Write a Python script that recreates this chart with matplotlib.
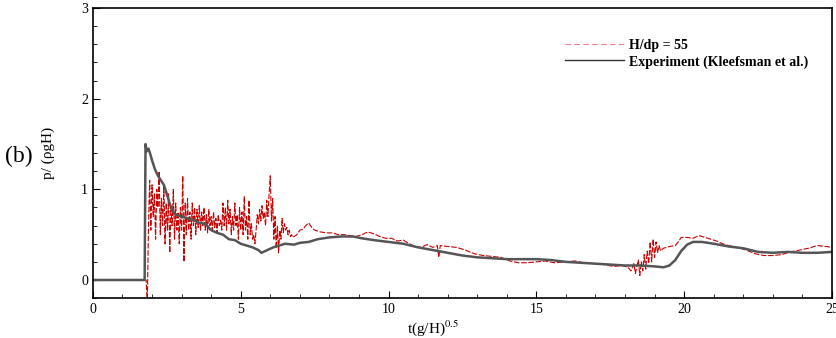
import numpy as np
import matplotlib
matplotlib.use("Agg")
import matplotlib.pyplot as plt
from matplotlib.ticker import MultipleLocator

# simulation, H/dp = 55
sim_t = [0.00, 1.76, 1.80, 1.84, 1.88, 1.92, 1.96, 2.00, 2.04, 2.08, 2.12, 2.16, 2.20, 2.24,
         2.28, 2.32, 2.36, 2.40, 2.44, 2.48, 2.52, 2.56, 2.60, 2.64, 2.68, 2.72, 2.76,
         2.80, 2.84, 2.88, 2.92, 2.96, 3.00, 3.04, 3.08, 3.12, 3.16, 3.20, 3.24, 3.28,
         3.32, 3.36, 3.40, 3.44, 3.48, 3.52, 3.56, 3.60, 3.64, 3.68, 3.72, 3.76, 3.80,
         3.84, 3.88, 3.92, 3.96, 4.00, 4.04, 4.08, 4.12, 4.16, 4.20, 4.24, 4.28, 4.32,
         4.36, 4.40, 4.44, 4.48, 4.52, 4.56, 4.60, 4.64, 4.68, 4.72, 4.76, 4.80, 4.84,
         4.88, 4.92, 4.96, 5.00, 5.04, 5.08, 5.12, 5.16, 5.20, 5.24, 5.28, 5.32, 5.36,
         5.40, 5.44, 5.48, 5.52, 5.56, 5.60, 5.64, 5.68, 5.72, 5.76, 5.80, 5.84, 5.88,
         5.92, 5.96, 6.00, 6.04, 6.08, 6.12, 6.16, 6.20, 6.24, 6.28, 6.32, 6.36, 6.40,
         6.44, 6.48, 6.52, 6.56, 6.60, 6.64, 6.68, 6.72, 6.76,
         6.9, 7.0, 7.1, 7.2, 7.3, 7.4, 7.5, 7.7, 7.9, 8.1, 8.3, 8.5, 8.7, 8.9, 9.1, 9.3,
         9.5, 9.7, 9.9, 10.1, 10.3, 10.5, 10.7, 10.9, 11.1, 11.3, 11.5, 11.65, 11.7, 11.75,
         12.0, 12.3, 12.6, 12.9, 13.2, 13.5, 13.8, 14.1, 14.4, 14.7, 15.0, 15.3, 15.6,
         16.0, 16.3, 16.6, 17.0, 17.3, 17.6, 17.9, 18.1, 18.2, 18.3, 18.35, 18.4, 18.45,
         18.5, 18.55, 18.6, 18.65, 18.7, 18.75, 18.8, 18.85, 18.9, 18.95, 19.0, 19.05,
         19.1, 19.15, 19.2, 19.3, 19.5, 19.7, 19.8, 19.9, 20.1, 20.3, 20.5, 20.7, 20.9,
         21.1, 21.3, 21.5, 21.8, 22.1, 22.4, 22.7, 23.0, 23.3, 23.6, 23.9, 24.2, 24.5,
         24.8, 25.0]
sim_p = [0.00, 0.00, 0.00, -0.25, 0.60, 1.10, 0.55, 1.05, 0.70, 0.95, 0.45, 1.00, 0.80, 1.20,
         0.50, 0.90, 0.60, 1.05, 0.40, 0.85, 0.55, 0.95, 0.30, 0.80, 0.60, 1.00, 0.45,
         0.85, 0.55, 0.75, 0.40, 0.80, 0.55, 1.15, 0.20, 0.85, 0.50, 0.90, 0.55, 0.75,
         0.45, 0.85, 0.60, 0.80, 0.50, 0.78, 0.58, 0.82, 0.55, 0.75, 0.60, 0.80, 0.55,
         0.72, 0.52, 0.78, 0.60, 0.70, 0.55, 0.75, 0.58, 0.68, 0.52, 0.72, 0.60, 0.66,
         0.55, 0.85, 0.60, 0.80, 0.55, 0.88, 0.62, 0.78, 0.50, 0.70, 0.55, 0.85, 0.60,
         0.72, 0.45, 0.80, 0.55, 0.75, 0.50, 0.92, 0.55, 0.70, 0.45, 0.88, 0.50, 0.62,
         0.45, 0.50, 0.40, 0.55, 0.72, 0.62, 0.78, 0.65, 0.82, 0.68, 0.75, 0.60, 0.88,
         0.70, 0.95, 1.15, 0.65, 0.90, 0.45, 0.70, 0.35, 0.60, 0.30, 0.55, 0.45, 0.68,
         0.52, 0.62, 0.55, 0.58, 0.50, 0.55, 0.48, 0.50, 0.47,
         0.50, 0.55, 0.56, 0.60, 0.63, 0.58, 0.55, 0.53, 0.52, 0.52, 0.50, 0.50, 0.49,
         0.48, 0.50, 0.53, 0.51, 0.48, 0.46, 0.46, 0.43, 0.44, 0.40, 0.37, 0.36, 0.39,
         0.36, 0.38, 0.25, 0.38, 0.37, 0.36, 0.33, 0.29, 0.27, 0.26, 0.25, 0.21, 0.19,
         0.19, 0.20, 0.21, 0.19, 0.20, 0.21, 0.19, 0.18, 0.17, 0.15, 0.16, 0.14, 0.10,
         0.18, 0.07, 0.15, 0.22, 0.05, 0.20, 0.10, 0.28, 0.12, 0.32, 0.18, 0.42, 0.20,
         0.45, 0.25, 0.42, 0.30, 0.38, 0.32, 0.35, 0.37, 0.38, 0.42, 0.47, 0.47, 0.46,
         0.49, 0.47, 0.45, 0.43, 0.40, 0.38, 0.36, 0.33, 0.29, 0.27, 0.27, 0.28, 0.31,
         0.33, 0.35, 0.38, 0.37, 0.36]

# experiment (Kleefsman et al.)
exp_t = [0.0, 1.75, 1.78, 1.82, 1.88, 1.95, 2.0, 2.1, 2.2, 2.3, 2.4, 2.5, 2.6, 2.7, 2.8,
         3.0, 3.2, 3.4, 3.6, 3.8, 4.0, 4.2, 4.4, 4.6, 4.8, 5.0, 5.2, 5.4, 5.6, 5.7, 5.9,
         6.1, 6.3, 6.5, 6.8, 7.0, 7.3, 7.6, 8.0, 8.4, 8.8, 9.1, 9.5, 10.0, 10.5, 11.0,
         11.5, 12.0, 12.5, 13.0, 13.5, 14.0, 14.5, 15.0, 15.5, 16.0, 16.5, 17.0, 17.5,
         18.0, 18.5, 19.0, 19.3, 19.5, 19.7, 19.9, 20.1, 20.3, 20.6, 21.0, 21.5, 22.0,
         22.5, 23.0, 23.5, 24.0, 24.5, 25.0]
exp_p = [0.0, 0.0, 1.50, 1.42, 1.45, 1.38, 1.32, 1.22, 1.15, 1.10, 1.05, 0.95, 0.84, 0.76,
         0.72, 0.70, 0.68, 0.66, 0.63, 0.62, 0.55, 0.52, 0.50, 0.45, 0.44, 0.40, 0.38,
         0.36, 0.33, 0.30, 0.33, 0.36, 0.38, 0.40, 0.39, 0.41, 0.42, 0.45, 0.47, 0.48,
         0.48, 0.46, 0.44, 0.42, 0.40, 0.36, 0.33, 0.30, 0.27, 0.25, 0.24, 0.23, 0.23,
         0.23, 0.22, 0.20, 0.19, 0.18, 0.17, 0.16, 0.16, 0.15, 0.14, 0.16, 0.22, 0.32,
         0.39, 0.42, 0.42, 0.40, 0.37, 0.35, 0.31, 0.30, 0.31, 0.30, 0.30, 0.31]

plt.rcParams['font.family'] = ['Liberation Serif', 'DejaVu Serif']
plt.rcParams['mathtext.fontset'] = 'stix'

fig = plt.figure(figsize=(8.37, 3.38), dpi=100)
ax = fig.add_axes([0.111, 0.118, 0.883, 0.858])

ax.plot(sim_t, sim_p, color='#c80000', lw=0.8, linestyle=(0, (5, 1.5)), label='H/dp = 55')
ax.plot(exp_t, exp_p, color='#555555', lw=1.8, label='Experiment (Kleefsman et al.)')

ax.set_xlim(0, 25)
ax.set_ylim(-0.2, 3)
ax.xaxis.set_major_locator(MultipleLocator(5))
ax.xaxis.set_minor_locator(MultipleLocator(1))
ax.yaxis.set_major_locator(MultipleLocator(1))
ax.yaxis.set_minor_locator(MultipleLocator(0.2))
ax.tick_params(which='both', direction='in', top=False, right=False, labelsize=10)
ax.tick_params(which='major', length=5)
ax.tick_params(which='minor', length=3)
for s in ax.spines.values():
    s.set_linewidth(1.2)

ax.set_xlabel('t(g/H)$^{0.5}$', fontsize=11)
ax.xaxis.set_label_coords(0.46, -0.07)
ax.set_ylabel('p/ (ρgH)', fontsize=11)
ax.yaxis.set_label_coords(-0.051, 0.5)
fig.text(0.006, 0.52, '(b)', fontsize=17)

leg = ax.legend(loc='upper left', bbox_to_anchor=(0.639, 0.895), frameon=False,
                prop={'weight': 'bold', 'size': 10}, handlelength=4.2,
                handletextpad=0.4, labelspacing=0.25, borderpad=0, borderaxespad=0)
leg.get_lines()[0].set_color('#f08080')
leg.get_lines()[0].set_linewidth(0.8)
leg.get_lines()[0].set_linestyle((0, (5, 3)))
leg.get_lines()[1].set_linewidth(1.0)
leg.get_lines()[1].set_color('#333333')

fig.savefig('out.png', dpi=100)
